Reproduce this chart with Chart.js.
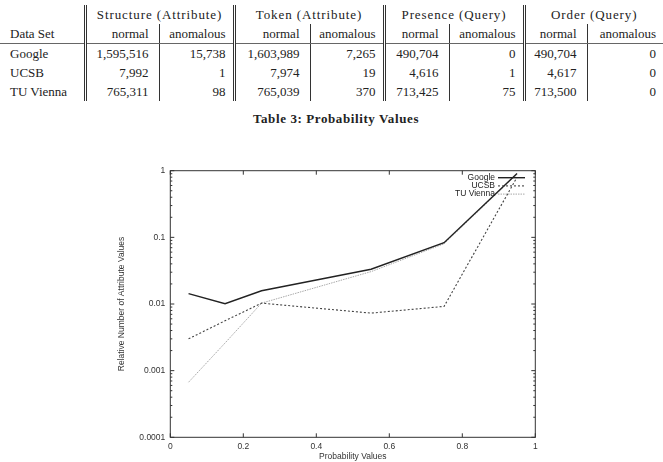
<!DOCTYPE html>
<html>
<head>
<meta charset="utf-8">
<script src="https://cdn.jsdelivr.net/npm/chart.js@4"></script>
<style>
  html, body { margin: 0; padding: 0; background: #fff; width: 663px; height: 462px; overflow: hidden; }
  #tbl { position: absolute; left: 0; top: 5px; border-collapse: collapse; table-layout: fixed;
         font: 13px "Liberation Serif", serif; color: #222; }
  #tbl td { height: 19px; line-height: 19px; padding: 0; white-space: nowrap; text-align: right; }
  #tbl td.l { text-align: left; padding-left: 10px; }
  #tbl td.c { text-align: center; letter-spacing: 0.9px; }
  #tbl td.n { padding-right: 10px; }
  #tbl td.a { padding-right: 7px; border-left: 1px solid #333; }
  #tbl td.dbl { border-left: 3px double #333; }
  #tbl tr.sub td { border-bottom: 1px solid #666; }
  #caption { position: absolute; left: 0; top: 111px; width: 672px; text-align: center;
             font: bold 13px "Liberation Serif", serif; letter-spacing: 0.6px; color: #222; }
  #wrap { position: absolute; left: 0; top: 150px; width: 663px; height: 312px; }
</style>
</head>
<body>

<table id="tbl">
  <colgroup>
    <col style="width:85px"><col style="width:74px"><col style="width:75px"><col style="width:76px">
    <col style="width:74px"><col style="width:65px"><col style="width:75px"><col style="width:63px"><col style="width:76px">
  </colgroup>
  <tr>
    <td></td>
    <td class="c dbl" colspan="2">Structure (Attribute)</td>
    <td class="c dbl" colspan="2">Token (Attribute)</td>
    <td class="c dbl" colspan="2">Presence (Query)</td>
    <td class="c dbl" colspan="2">Order (Query)</td>
  </tr>
  <tr class="sub">
    <td class="l">Data Set</td>
    <td class="n dbl">normal</td><td class="a">anomalous</td>
    <td class="n dbl">normal</td><td class="a">anomalous</td>
    <td class="n dbl">normal</td><td class="a">anomalous</td>
    <td class="n dbl">normal</td><td class="a">anomalous</td>
  </tr>
  <tr>
    <td class="l">Google</td>
    <td class="n dbl">1,595,516</td><td class="a">15,738</td>
    <td class="n dbl">1,603,989</td><td class="a">7,265</td>
    <td class="n dbl">490,704</td><td class="a">0</td>
    <td class="n dbl">490,704</td><td class="a">0</td>
  </tr>
  <tr>
    <td class="l">UCSB</td>
    <td class="n dbl">7,992</td><td class="a">1</td>
    <td class="n dbl">7,974</td><td class="a">19</td>
    <td class="n dbl">4,616</td><td class="a">1</td>
    <td class="n dbl">4,617</td><td class="a">0</td>
  </tr>
  <tr>
    <td class="l">TU Vienna</td>
    <td class="n dbl">765,311</td><td class="a">98</td>
    <td class="n dbl">765,039</td><td class="a">370</td>
    <td class="n dbl">713,425</td><td class="a">75</td>
    <td class="n dbl">713,500</td><td class="a">0</td>
  </tr>
</table>

<div id="caption">Table 3: Probability Values</div>

<div id="wrap"><canvas id="myChart"></canvas></div>

<script>
// probability bins (x) and relative number of attribute values per data set (y, log scale)
const probValues = [0.05, 0.15, 0.25, 0.55, 0.75, 0.95];
const googleVals = [0.0143, 0.0101, 0.0158, 0.0332, 0.083, 0.91];
const ucsbVals   = [0.0030, 0.0056, 0.0103, 0.0073, 0.0092, 0.80];
const tuViennaVals = [0.00067, 0.0026, 0.0103, 0.0306, 0.080, 0.88];

const xTickValues = [0, 0.2, 0.4, 0.6, 0.8, 1];
const yTickValues = [0.0001, 0.001, 0.01, 0.1, 1];

const FONT = '"Liberation Sans", Arial, sans-serif';
const INK = '#333';

function toPoints(vals){
    return probValues.map((x, i) => ({x: x, y: vals[i]}));
}

function isMajor(v){
    const e = Math.log10(v);
    return Math.abs(e - Math.round(e)) < 1e-9;
}

// gnuplot style frame: full box, inward ticks on all four sides
const framePlugin = {
    id: 'frame',
    afterDraw(chart){
        const {ctx, chartArea: a} = chart;
        const xs = chart.scales.x, ys = chart.scales.y;
        ctx.save();
        ctx.strokeStyle = INK;
        ctx.lineWidth = 1;
        ctx.strokeRect(a.left, a.top, a.right - a.left, a.bottom - a.top);
        ctx.beginPath();
        xs.ticks.forEach(t => {
            const px = xs.getPixelForValue(t.value);
            ctx.moveTo(px, a.bottom); ctx.lineTo(px, a.bottom - 4);
            ctx.moveTo(px, a.top);    ctx.lineTo(px, a.top + 4);
        });
        ys.ticks.forEach(t => {
            const py = ys.getPixelForValue(t.value);
            const len = isMajor(t.value) ? 4 : 2;
            ctx.moveTo(a.left, py);  ctx.lineTo(a.left + len, py);
            ctx.moveTo(a.right, py); ctx.lineTo(a.right - len, py);
        });
        ctx.stroke();

        // key in the top right corner: label first, then line sample
        ctx.font = '8.5px ' + FONT;
        ctx.fillStyle = '#222';
        ctx.textAlign = 'right';
        ctx.textBaseline = 'middle';
        chart.data.datasets.forEach((ds, i) => {
            const y = a.top + 7 + i * 8.2;
            ctx.fillText(ds.label, 495, y);
            ctx.beginPath();
            ctx.strokeStyle = ds.borderColor;
            ctx.lineWidth = ds.borderWidth;
            ctx.setLineDash(ds.borderDash || []);
            ctx.moveTo(498, y); ctx.lineTo(525, y);
            ctx.stroke();
        });
        ctx.restore();
    }
};

function createChart(){
    const ctx = document.getElementById('myChart');
    new Chart(ctx, {
        type: 'line',
        data: {
            datasets: [
                {
                    label: 'Google',
                    data: toPoints(googleVals),
                    borderColor: '#222',
                    borderWidth: 1.4,
                    pointRadius: 0,
                    fill: false
                },
                {
                    label: 'UCSB',
                    data: toPoints(ucsbVals),
                    borderColor: '#444',
                    borderWidth: 1.1,
                    borderDash: [2, 2],
                    pointRadius: 0,
                    fill: false
                },
                {
                    label: 'TU Vienna',
                    data: toPoints(tuViennaVals),
                    borderColor: '#a8a8a8',
                    borderWidth: 1,
                    borderDash: [1.5, 1],
                    pointRadius: 0,
                    fill: false
                }
            ]
        },
        options: {
            responsive: true,
            maintainAspectRatio: false,
            animation: false,
            layout: {
                padding: {left: 112, right: 127.7, top: 20.7, bottom: 0}
            },
            scales: {
                x: {
                    type: 'linear',
                    min: 0,
                    max: 1,
                    afterBuildTicks: s => { s.ticks = xTickValues.map(v => ({value: v})); },
                    afterFit: s => { s.height = 24.7; },
                    grid: {display: false, drawTicks: false},
                    border: {display: false},
                    ticks: {
                        padding: 4,
                        color: INK,
                        font: {family: FONT, size: 8.5},
                        callback: v => String(v)
                    },
                    title: {
                        display: true,
                        text: 'Probability Values',
                        color: INK,
                        font: {family: FONT, size: 8.5},
                        padding: {top: 0, bottom: 0}
                    }
                },
                y: {
                    type: 'logarithmic',
                    min: 0.0001,
                    max: 1,
                    afterBuildTicks: s => {
                        const t = [];
                        yTickValues.forEach((v, i) => {
                            t.push({value: v});
                            if (i < yTickValues.length - 1){
                                for (let m = 2; m <= 9; m++) t.push({value: m * v});
                            }
                        });
                        s.ticks = t;
                    },
                    afterFit: s => { s.width = 58.3; },
                    grid: {display: false, drawTicks: false},
                    border: {display: false},
                    ticks: {
                        autoSkip: false,
                        padding: 5,
                        color: INK,
                        font: {family: FONT, size: 8.5},
                        callback: v => isMajor(v) ? String(v) : ''
                    },
                    title: {
                        display: true,
                        text: 'Relative Number of Attribute Values',
                        color: INK,
                        font: {family: FONT, size: 8.5},
                        padding: {top: 5, bottom: 0}
                    }
                }
            },
            plugins: {
                legend: {display: false},
                tooltip: {enabled: false}
            }
        },
        plugins: [framePlugin]
    });
}

createChart();
</script>
</body>
</html>
